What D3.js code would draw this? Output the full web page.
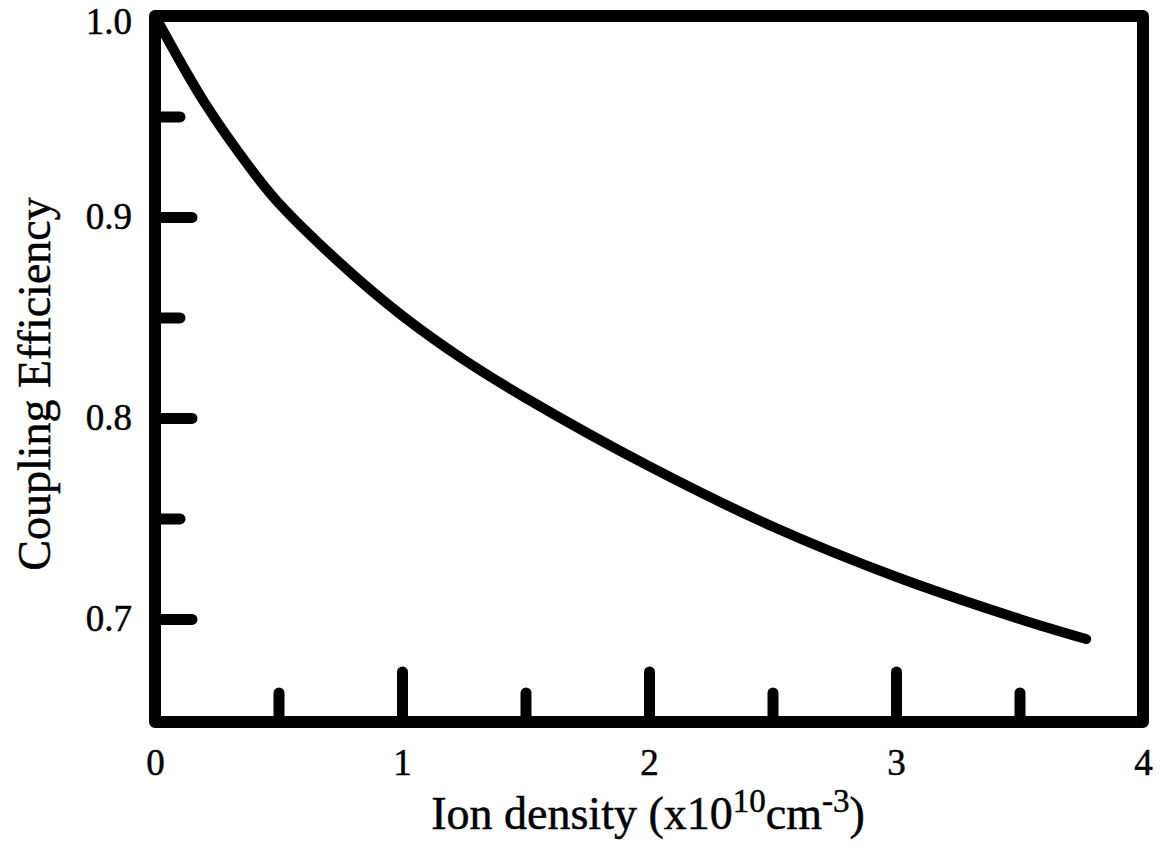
<!DOCTYPE html>
<html>
<head>
<meta charset="utf-8">
<script src="https://cdn.jsdelivr.net/npm/d3@7"></script>
<style>
  html, body { margin: 0; padding: 0; background: #fff; }
  svg { display: block; }
  text { font-family: "Liberation Serif", "Times New Roman", serif; fill: #000; stroke: #000; stroke-width: 0.5px; }
</style>
</head>
<body>
<svg id="chart" width="1160" height="850"></svg>
<script>
// Coupling efficiency versus ion density
const density    = [0, 0.2, 0.4, 0.5, 0.75, 1.0, 1.25, 1.5, 2.0, 2.5, 3.0, 3.5, 3.77];
const efficiency = [1.0, 0.957, 0.922, 0.907, 0.877, 0.851, 0.829, 0.810, 0.776, 0.746, 0.721, 0.700, 0.690];

const xMajorTicks = [1, 2, 3];
const xMinorTicks = [0.5, 1.5, 2.5, 3.5];
const xTickLabels = [0, 1, 2, 3, 4];
const yMajorTicks = [0.7, 0.8, 0.9];
const yMinorTicks = [0.75, 0.85, 0.95];
const yTickLabels = [0.7, 0.8, 0.9, 1.0];

const svg = d3.select("#chart");
const plotLeft = 155, plotRight = 1143, plotTop = 16, plotBottom = 722;
const yMin = 0.6487;

const x = d3.scaleLinear().domain([0, 4]).range([plotLeft, plotRight]);
const y = d3.scaleLinear().domain([yMin, 1.0]).range([plotBottom, plotTop]);

function styleTicks(g, w) {
  g.select(".domain").remove();
  g.selectAll(".tick line")
    .attr("stroke", "#000")
    .attr("stroke-width", w)
    .attr("stroke-linecap", "round");
  g.selectAll(".tick text").remove();
}

// inward tick marks
svg.append("g").attr("transform", `translate(0,${plotBottom})`)
  .call(d3.axisTop(x).tickValues(xMajorTicks).tickSize(50).tickFormat(""))
  .call(g => styleTicks(g, 11));
svg.append("g").attr("transform", `translate(0,${plotBottom})`)
  .call(d3.axisTop(x).tickValues(xMinorTicks).tickSize(29).tickFormat(""))
  .call(g => styleTicks(g, 11));
svg.append("g").attr("transform", `translate(${plotLeft},0)`)
  .call(d3.axisRight(y).tickValues(yMajorTicks).tickSize(37).tickFormat(""))
  .call(g => styleTicks(g, 11));
svg.append("g").attr("transform", `translate(${plotLeft},0)`)
  .call(d3.axisRight(y).tickValues(yMinorTicks).tickSize(25).tickFormat(""))
  .call(g => styleTicks(g, 11));

// tick labels
svg.append("g").attr("transform", `translate(0,${plotBottom})`)
  .call(d3.axisBottom(x).tickValues(xTickLabels).tickFormat(d3.format("d")).tickSize(0).tickPadding(27))
  .call(g => {
    g.select(".domain").remove();
    g.selectAll("text").attr("font-size", 37).attr("font-family", "Liberation Serif").attr("fill", "#000");
  });
svg.append("g").attr("transform", `translate(${plotLeft},0)`)
  .call(d3.axisLeft(y).tickValues(yTickLabels).tickFormat(d3.format(".1f")).tickSize(0).tickPadding(23))
  .call(g => {
    g.select(".domain").remove();
    g.selectAll("text").attr("font-size", 37).attr("font-family", "Liberation Serif").attr("fill", "#000");
    g.selectAll("text").filter(d => d === 1.0).attr("dy", "0.47em");
  });

// frame
svg.append("rect")
  .attr("x", x(0)).attr("y", y(1.0))
  .attr("width", x(4) - x(0)).attr("height", y(yMin) - y(1.0))
  .attr("fill", "none").attr("stroke", "#000").attr("stroke-width", 12)
  .attr("stroke-linejoin", "round");

// curve
const line = d3.line()
  .x((d, i) => x(density[i]))
  .y(d => y(d))
  .curve(d3.curveCatmullRom.alpha(0.5));
svg.append("path")
  .attr("d", line(efficiency))
  .attr("fill", "none").attr("stroke", "#000")
  .attr("stroke-width", 10).attr("stroke-linecap", "round").attr("stroke-linejoin", "round");

// axis titles
svg.append("text")
  .attr("transform", `translate(50,384) rotate(-90)`)
  .attr("text-anchor", "middle")
  .attr("font-size", 46)
  .text("Coupling Efficiency");

const xt = svg.append("text")
  .attr("x", 648).attr("y", 829)
  .attr("text-anchor", "middle")
  .attr("font-size", 46);
xt.append("tspan").text("Ion density (x10");
xt.append("tspan").attr("dy", -17).attr("font-size", 33).text("10");
xt.append("tspan").attr("dy", 17).text("cm");
xt.append("tspan").attr("dy", -17).attr("font-size", 33).text("-3");
xt.append("tspan").attr("dy", 17).text(")");
</script>
</body>
</html>
